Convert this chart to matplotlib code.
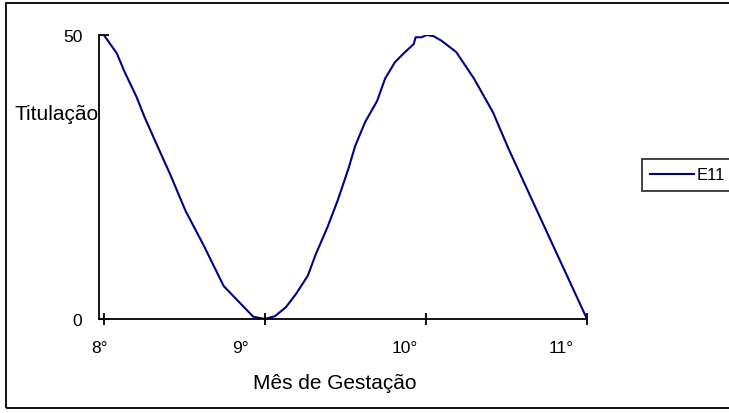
import matplotlib.pyplot as plt
from matplotlib.patches import Rectangle

plt.rcParams['font.family'] = ['Liberation Sans', 'DejaVu Sans']

# mes de gestacao and titulacao
meses = [8.000, 8.080, 8.129, 8.203, 8.252, 8.332, 8.416, 8.508, 8.621, 8.744,
         8.928, 9.000, 9.063, 9.131, 9.193, 9.266, 9.316, 9.389, 9.451, 9.518,
         9.561, 9.623, 9.697, 9.746, 9.807, 9.863, 9.924, 9.936, 9.973, 10.004,
         10.047, 10.096, 10.188, 10.299, 10.416, 10.514, 10.754, 11.000]
titulacao = [50.0, 46.8, 43.5, 39.1, 35.6, 30.5, 25.2, 19.0, 12.9, 5.8,
             0.4, 0.0, 0.5, 2.1, 4.4, 7.6, 11.4, 16.2, 20.8, 26.4,
             30.5, 34.7, 38.4, 42.3, 45.2, 46.8, 48.4, 49.6, 49.6, 50.0,
             49.8, 49.0, 47.0, 42.3, 36.4, 29.9, 15.1, 0.0]

ticks_x = [8, 9, 10, 11]
tick_labels = ['8°', '9°', '10°', '11°']
# Excel puts the labels a little left of the ticks
label_pos = [7.97, 8.851, 9.866, 10.84]
serie = 'E11'

fig = plt.figure(figsize=(7.29, 4.14), dpi=100)
ax = fig.add_axes([99 / 729, 1 - 320 / 414, (587 - 99) / 729, (320 - 36) / 414])

ax.plot(meses, titulacao, color='#000080', linewidth=1.5, label=serie)

ax.set_xlim(8, 11)
ax.set_ylim(0, 50)

ax.set_xticks(ticks_x)
ax.set_xticklabels([])
ax.set_xticks(label_pos, tick_labels, minor=True)
ax.set_yticks([0, 50])

ax.tick_params(axis='x', which='major', direction='inout', length=9, width=1.3)
ax.tick_params(axis='x', which='minor', length=0, pad=15, labelsize=12.5)
ax.tick_params(axis='y', direction='in', length=7, width=1.3, pad=12, labelsize=12.5)

for s in ['top', 'right']:
    ax.spines[s].set_visible(False)
for s in ['left', 'bottom']:
    ax.spines[s].set_linewidth(1.3)

ax.set_xlabel('Mês de Gestação', fontsize=15, va='baseline')
ax.xaxis.set_label_coords(0.4836, -(389 - 320) / 284)
ax.set_ylabel('Titulação', fontsize=15, rotation=0, ha='right', va='baseline')
ax.yaxis.set_label_coords(0.0, (320 - 120) / 284)

fig.legend(loc='center left', bbox_to_anchor=(642 / 729, 1 - 176 / 414),
           frameon=True, fancybox=False, edgecolor='black', fontsize=12,
           handlelength=2.6, handletextpad=0.2, borderpad=0.5, borderaxespad=0)
leg = fig.legends[0]
leg.get_frame().set_linewidth(1.3)

fig.patches.append(Rectangle((6 / 729, 1 - 409 / 414), 1.0, (409 - 4) / 414,
                             transform=fig.transFigure, fill=False,
                             edgecolor='black', linewidth=1.3))

fig.savefig('out.png', dpi=100)
